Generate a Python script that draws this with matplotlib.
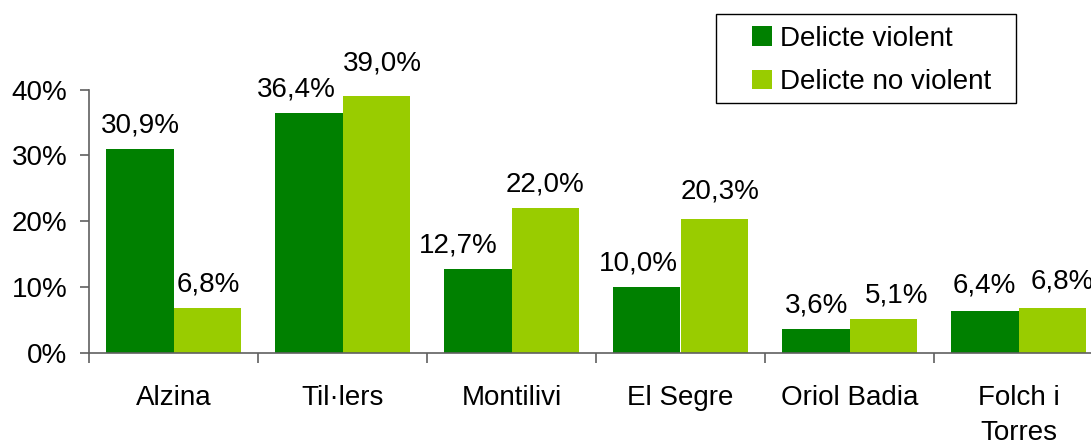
import matplotlib
matplotlib.use('Agg')
import matplotlib.pyplot as plt
from matplotlib.patches import Rectangle
import numpy as np

plt.rcParams['font.family'] = ['Liberation Sans', 'DejaVu Sans']

barris = ["Alzina", "Til·lers", "Montilivi", "El Segre", "Oriol Badia", "Folch i\nTorres"]
violent = [30.9, 36.4, 12.7, 10.0, 3.6, 6.4]
no_violent = [6.8, 39.0, 22.0, 20.3, 5.1, 6.8]
yticks = [0, 10, 20, 30, 40]
fs = 20

# label nudges (pixels) as placed in the original chart
nudge_v = [(1, 0), (-12, 0), (-19, 0), (-8, 0), (1, 0), (0, 1)]
nudge_nv = [(1, 0), (6, 9), (0, 0), (6, 4), (13, 0), (10, 3)]

fig = plt.figure(figsize=(10.91, 4.41), dpi=100)
ax = fig.add_axes([89/1091, 1 - 353/441, 1014/1091, 353/441])

x = np.arange(len(barris))
w = 0.4
b1 = ax.bar(x - w/2, violent, w, color='#008000', label='Delicte violent')
b2 = ax.bar(x + w/2, no_violent, w, color='#99CC00', label='Delicte no violent')

for bars, vals, nud in ((b1, violent, nudge_v), (b2, no_violent, nudge_nv)):
    for r, v, (dx, dy) in zip(bars, vals, nud):
        ax.annotate(("%.1f%%" % v).replace('.', ','), (r.get_x() + r.get_width()/2, v),
                    xytext=(dx, 17 + dy), textcoords='offset pixels', ha='center', va='baseline',
                    fontsize=fs, annotation_clip=False)

ax.set_xlim(-0.5, len(barris) - 0.5)
ax.set_ylim(0, 53.6)
ax.set_yticks(yticks)
ax.set_yticklabels(["%d%%" % t for t in yticks], fontsize=fs)
ax.set_xticks(x)
ax.set_xticklabels(barris, fontsize=fs, linespacing=1.45)
ax.tick_params(axis='x', which='major', length=0, pad=23)
ax.set_xticks(np.arange(len(barris) + 1) - 0.5, minor=True)
ax.tick_params(axis='x', which='minor', length=7, width=1.2, color='#606060')
ax.tick_params(axis='y', length=6.5, width=1.2, color='#606060', pad=9)

for s in ('top', 'right'):
    ax.spines[s].set_visible(False)
ax.spines['left'].set_bounds(0, 40)
ax.spines['left'].set_color('#606060')
ax.spines['bottom'].set_color('#606060')
ax.spines['left'].set_linewidth(1.2)
ax.spines['bottom'].set_linewidth(1.2)

# legend box drawn separately (Excel style padding)
fig.patches.append(Rectangle((716/1091, 1 - 103/441), 300/1091, 89/441, transform=fig.transFigure,
                             fill=False, edgecolor='black', linewidth=1.0))
leg = ax.legend(loc='upper left', bbox_to_anchor=(752/1091, 1 - 26/441), bbox_transform=fig.transFigure,
                fontsize=fs, frameon=False,
                handlelength=0.72, handleheight=0.72, handletextpad=0.3,
                borderpad=0, labelspacing=0.62, borderaxespad=0)

plt.savefig("out.png", dpi=100)
